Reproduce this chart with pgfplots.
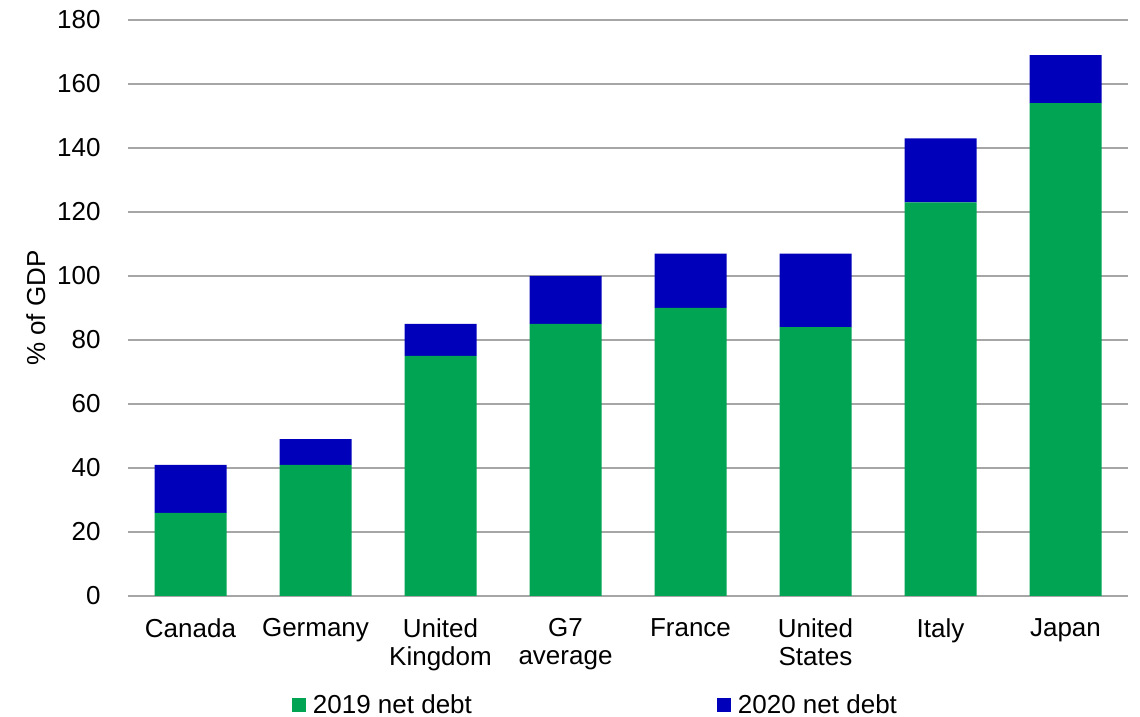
\documentclass[border=0pt]{standalone}
\usepackage{pgfplots}
\pgfplotsset{compat=1.18}
\usepackage{fontspec}
\setmainfont{Liberation Sans}
\definecolor{cgreen}{RGB}{0,164,82}
\definecolor{cblue}{RGB}{0,0,187}
\definecolor{cgrid}{RGB}{166,166,166}
\begin{document}
\begin{tikzpicture}
\begin{axis}[
  at={(96pt,90.75pt)}, anchor=south west,
  scale only axis, width=750pt, height=432pt,
  ybar stacked, bar width=54pt,
  xmin=-0.5, xmax=7.5, ymin=0, ymax=180,
  ytick={0,20,...,180},
  xtick=data,
  xticklabels={Canada,Germany,{United\\Kingdom},{G7\\average},France,{United\\States},Italy,Japan},
  xticklabel style={align=center, anchor=north, yshift=-13.5pt},
  every tick label/.append style={font=\fontsize{19.5}{21}\selectfont},
  /pgf/number format/assume math mode=true,
  axis line style={draw=none},
  major tick style={draw=none},
  ymajorgrids, grid style={cgrid, line width=1.1pt},
  yticklabel style={xshift=-17pt},
  ylabel={\% of GDP},
  ylabel style={font=\fontsize{19.5}{21}\selectfont, yshift=2pt},
  legend columns=2,
  legend style={at={(0.16,-0.189)}, anchor=west, draw=none, fill=none,
    font=\fontsize{19.5}{21}\selectfont,
    /tikz/every odd column/.append style={column sep=3pt},
    /tikz/every even column/.append style={column sep=182pt}},
  legend image code/.code={\fill[#1] (0pt,-5.25pt) rectangle (10.5pt,5.25pt);},
]
\addplot[fill=cgreen, draw=none] coordinates {(0,26) (1,41) (2,75) (3,85) (4,90) (5,84) (6,123) (7,154)};
\addplot[fill=cblue, draw=none] coordinates {(0,15) (1,8) (2,10) (3,15) (4,17) (5,23) (6,20) (7,15)};
\legend{2019 net debt, 2020 net debt}
\end{axis}
\pgfresetboundingbox
\path (0pt,0pt) rectangle (855pt,537.75pt);
\end{tikzpicture}
\end{document}
